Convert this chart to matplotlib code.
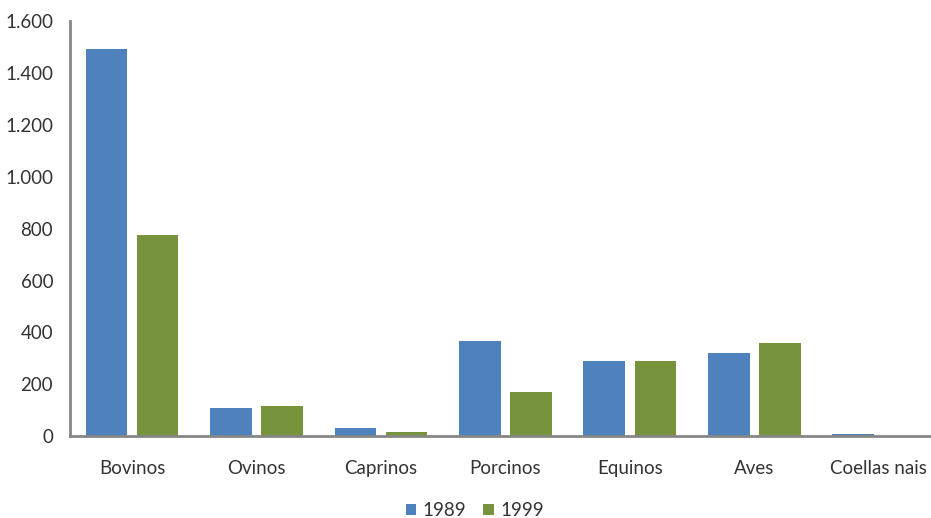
import numpy as np
import matplotlib.pyplot as plt
from matplotlib.ticker import FuncFormatter

categories = ['Bovinos', 'Ovinos', 'Caprinos', 'Porcinos', 'Equinos', 'Aves', 'Coellas nais']
values_1989 = [1492, 108, 32, 366, 289, 319, 7]
values_1999 = [775, 116, 17, 170, 289, 360, 1]

plt.rcParams['font.family'] = ['Lato', 'DejaVu Sans']

fig = plt.figure(figsize=(9.31, 5.18), dpi=100)
ax = fig.add_axes([0.075, 0.158, 0.925, 0.801])

x = np.arange(len(categories))
w = 0.335
ax.bar(x - 0.205, values_1989, w, color='#4F81BD', label='1989')
ax.bar(x + 0.205, values_1999, w, color='#77933C', label='1999')

ax.set_xlim(-0.5, 6.42)
ax.set_ylim(0, 1600)
ax.set_yticks(range(0, 1601, 200))
ax.yaxis.set_major_formatter(FuncFormatter(lambda v, p: f'{int(v):,}'.replace(',', '.')))
ax.set_xticks(x)
ax.set_xticklabels(categories)

for s in ['top', 'right']:
    ax.spines[s].set_visible(False)
for s in ['left', 'bottom']:
    ax.spines[s].set_color('#868686')
    ax.spines[s].set_linewidth(2)
ax.tick_params(axis='both', length=0, labelsize=13.5, colors='#333333')
ax.tick_params(axis='x', pad=17)
ax.tick_params(axis='y', pad=12)

fig.legend(loc='lower center', bbox_to_anchor=(0.51, -0.035), ncol=2, frameon=False,
           fontsize=13.5, handlelength=0.55, handleheight=0.55, columnspacing=0.9,
           handletextpad=0.35, labelcolor='#333333')

fig.savefig('out.png', dpi=100)
